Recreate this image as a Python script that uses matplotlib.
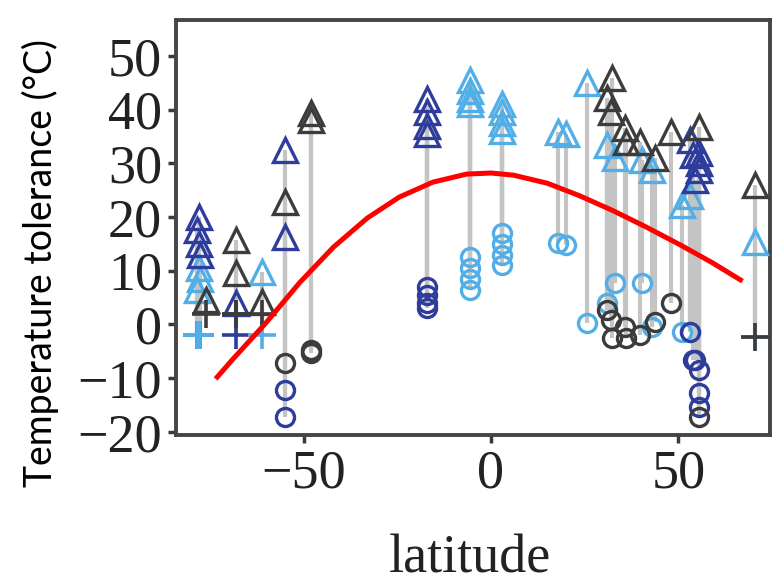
import numpy as np
import matplotlib
matplotlib.use('Agg')
import matplotlib.pyplot as plt

plt.rcParams['font.family'] = ['Liberation Serif', 'DejaVu Serif']

# thermal tolerance per population: latitude, upper limit (CTmax), lower limit (CTmin)
lat = [-78.0, -78.5, -78.0, -77.5, -78.0, -77.5, -78.5, -76.0,
       -68.0, -68.0, -68.0, -61.0, -61.0,
       -55.0, -55.0, -55.0, -48.0, -48.0,
       -17.0, -17.0, -17.0, -17.0,
       -5.5, -5.5, -5.5, -5.5,
       3.0, 3.0, 3.0, 3.0,
       18.0, 20.0, 25.6,
       31.0, 32.3, 32.0, 31.0, 33.0, 35.7, 36.0, 39.7, 40.3, 43.0, 43.7, 48.0,
       51.0, 53.0, 54.0, 55.5, 54.5, 53.0, 55.5, 55.5, 55.5,
       70.4, 70.4]
ct_max = [20.0, 17.5, 15.0, 13.0, 10.5, 8.5, 6.5, 4.5,
          15.7, 9.6, 4.0, 9.8, 4.2,
          32.5, 22.8, 16.3, 39.4, 38.0,
          42.0, 39.5, 37.0, 35.5,
          45.5, 43.5, 42.0, 41.0,
          41.0, 39.5, 37.5, 36.0,
          35.8, 35.5, 45.0,
          42.2, 45.9, 39.6, 33.4, 31.0, 36.6, 34.0, 34.0, 30.7, 28.8, 31.0, 35.8,
          22.3, 34.4, 31.6, 28.8, 26.9, 24.0, 32.0, 30.0, 36.8,
          26.0, 15.4]
ct_min = [-2.0, -2.0, -2.0, -2.0, -2.0, -2.0, -2.0, 2.0,
          2.0, 2.0, -2.0, -2.0, 2.0,
          -17.2, -7.2, -12.2, -5.3, -4.8,
          7.0, 5.5, 4.0, 3.0,
          12.5, 10.5, 8.5, 6.5,
          17.0, 15.0, 13.0, 11.0,
          15.2, 14.8, 0.3,
          2.7, -2.5, 0.9, 4.0, 7.7, -0.4, -2.5, -2.0, 7.7, -0.4, 0.5, 4.0,
          -1.4, -1.4, -6.6, -8.5, -6.6, -1.4, -12.7, -15.3, -17.2,
          -2.3, -2.3]
# k = grey, d = dark blue, l = light blue
group = ['d', 'd', 'd', 'd', 'l', 'l', 'l', 'k',
         'k', 'k', 'd', 'l', 'k',
         'd', 'k', 'd', 'k', 'k',
         'd', 'd', 'd', 'd',
         'l', 'l', 'l', 'l',
         'l', 'l', 'l', 'l',
         'l', 'l', 'l',
         'k', 'k', 'k', 'l', 'l', 'k', 'k', 'k', 'l', 'l', 'k', 'k',
         'l', 'd', 'd', 'd', 'd', 'l', 'd', 'd', 'k',
         'k', 'l']
# lower limit shown as '+' where only a bound was available
low_cross = [True] * 13 + [False] * 41 + [True, True]

# fitted thermal optimum curve
curve_lat = [-73, -69, -60, -51, -42, -33, -24.5, -15.5, -6.5, 0,
             6, 15, 23.5, 32.5, 41.5, 50.5, 59, 66.5]
curve_t = [-9.8, -6.6, 0.3, 7.8, 14.4, 19.8, 23.7, 26.5, 28.0, 28.2,
           27.8, 26.3, 24.0, 21.2, 18.1, 14.8, 11.5, 8.3]

colors = {'k': '#3c3c3c', 'd': '#2e3d9c', 'l': '#52aee6'}

lat = np.array(lat)
ct_max = np.array(ct_max)
ct_min = np.array(ct_min)
group = np.array(group)
low_cross = np.array(low_cross)

fig = plt.figure(figsize=(7.73, 5.85), dpi=100)
ax = fig.add_axes([0.2277, 0.2564, 0.7684, 0.7094])

ax.vlines(lat, ct_min, ct_max, color='#c4c4c4', lw=3, zorder=1)

for g in ['l', 'd', 'k']:
    m = group == g
    c = colors[g]
    ax.plot(lat[m], ct_max[m], ls='none', marker='^', ms=17, mfc='none',
            mec=c, mew=2.4, zorder=3)
    mo = m & ~low_cross
    ax.plot(lat[mo], ct_min[mo], ls='none', marker='o', ms=13, mfc='none',
            mec=c, mew=2.4, zorder=3)

for g in ['d', 'l', 'k']:
    mc = (group == g) & low_cross
    ax.plot(lat[mc], ct_min[mc], ls='none', marker='+', ms=20,
            mec=colors[g], mew=2.6, zorder=3)

ax.plot(curve_lat, curve_t, color='#ff0000', lw=3.6, zorder=5)

ax.set_xlim(-84, 74.4)
ax.set_ylim(-20.6, 56.7)
ax.set_xticks([-50, 0, 50])
ax.set_yticks([-20, -10, 0, 10, 20, 30, 40, 50])
for s in ax.spines.values():
    s.set_color('#454545')
    s.set_linewidth(2.8)
ax.tick_params(axis='both', direction='out', length=6, width=2.5,
               color='#3a3a3a', labelsize=39, labelcolor='#222222')
ax.tick_params(axis='y', pad=4)
ax.tick_params(axis='x', pad=4)

fig.text(0.608, 0.022, 'latitude', fontsize=39, color='#222222',
         ha='center', va='baseline')
fig.text(40 / 773, 1 - 263 / 585, 'Temperature tolerance (°C)',
         family=['Lato', 'DejaVu Sans'], fontsize=27, rotation=90,
         ha='center', va='center', color='black')

fig.savefig('out.png', dpi=100)
